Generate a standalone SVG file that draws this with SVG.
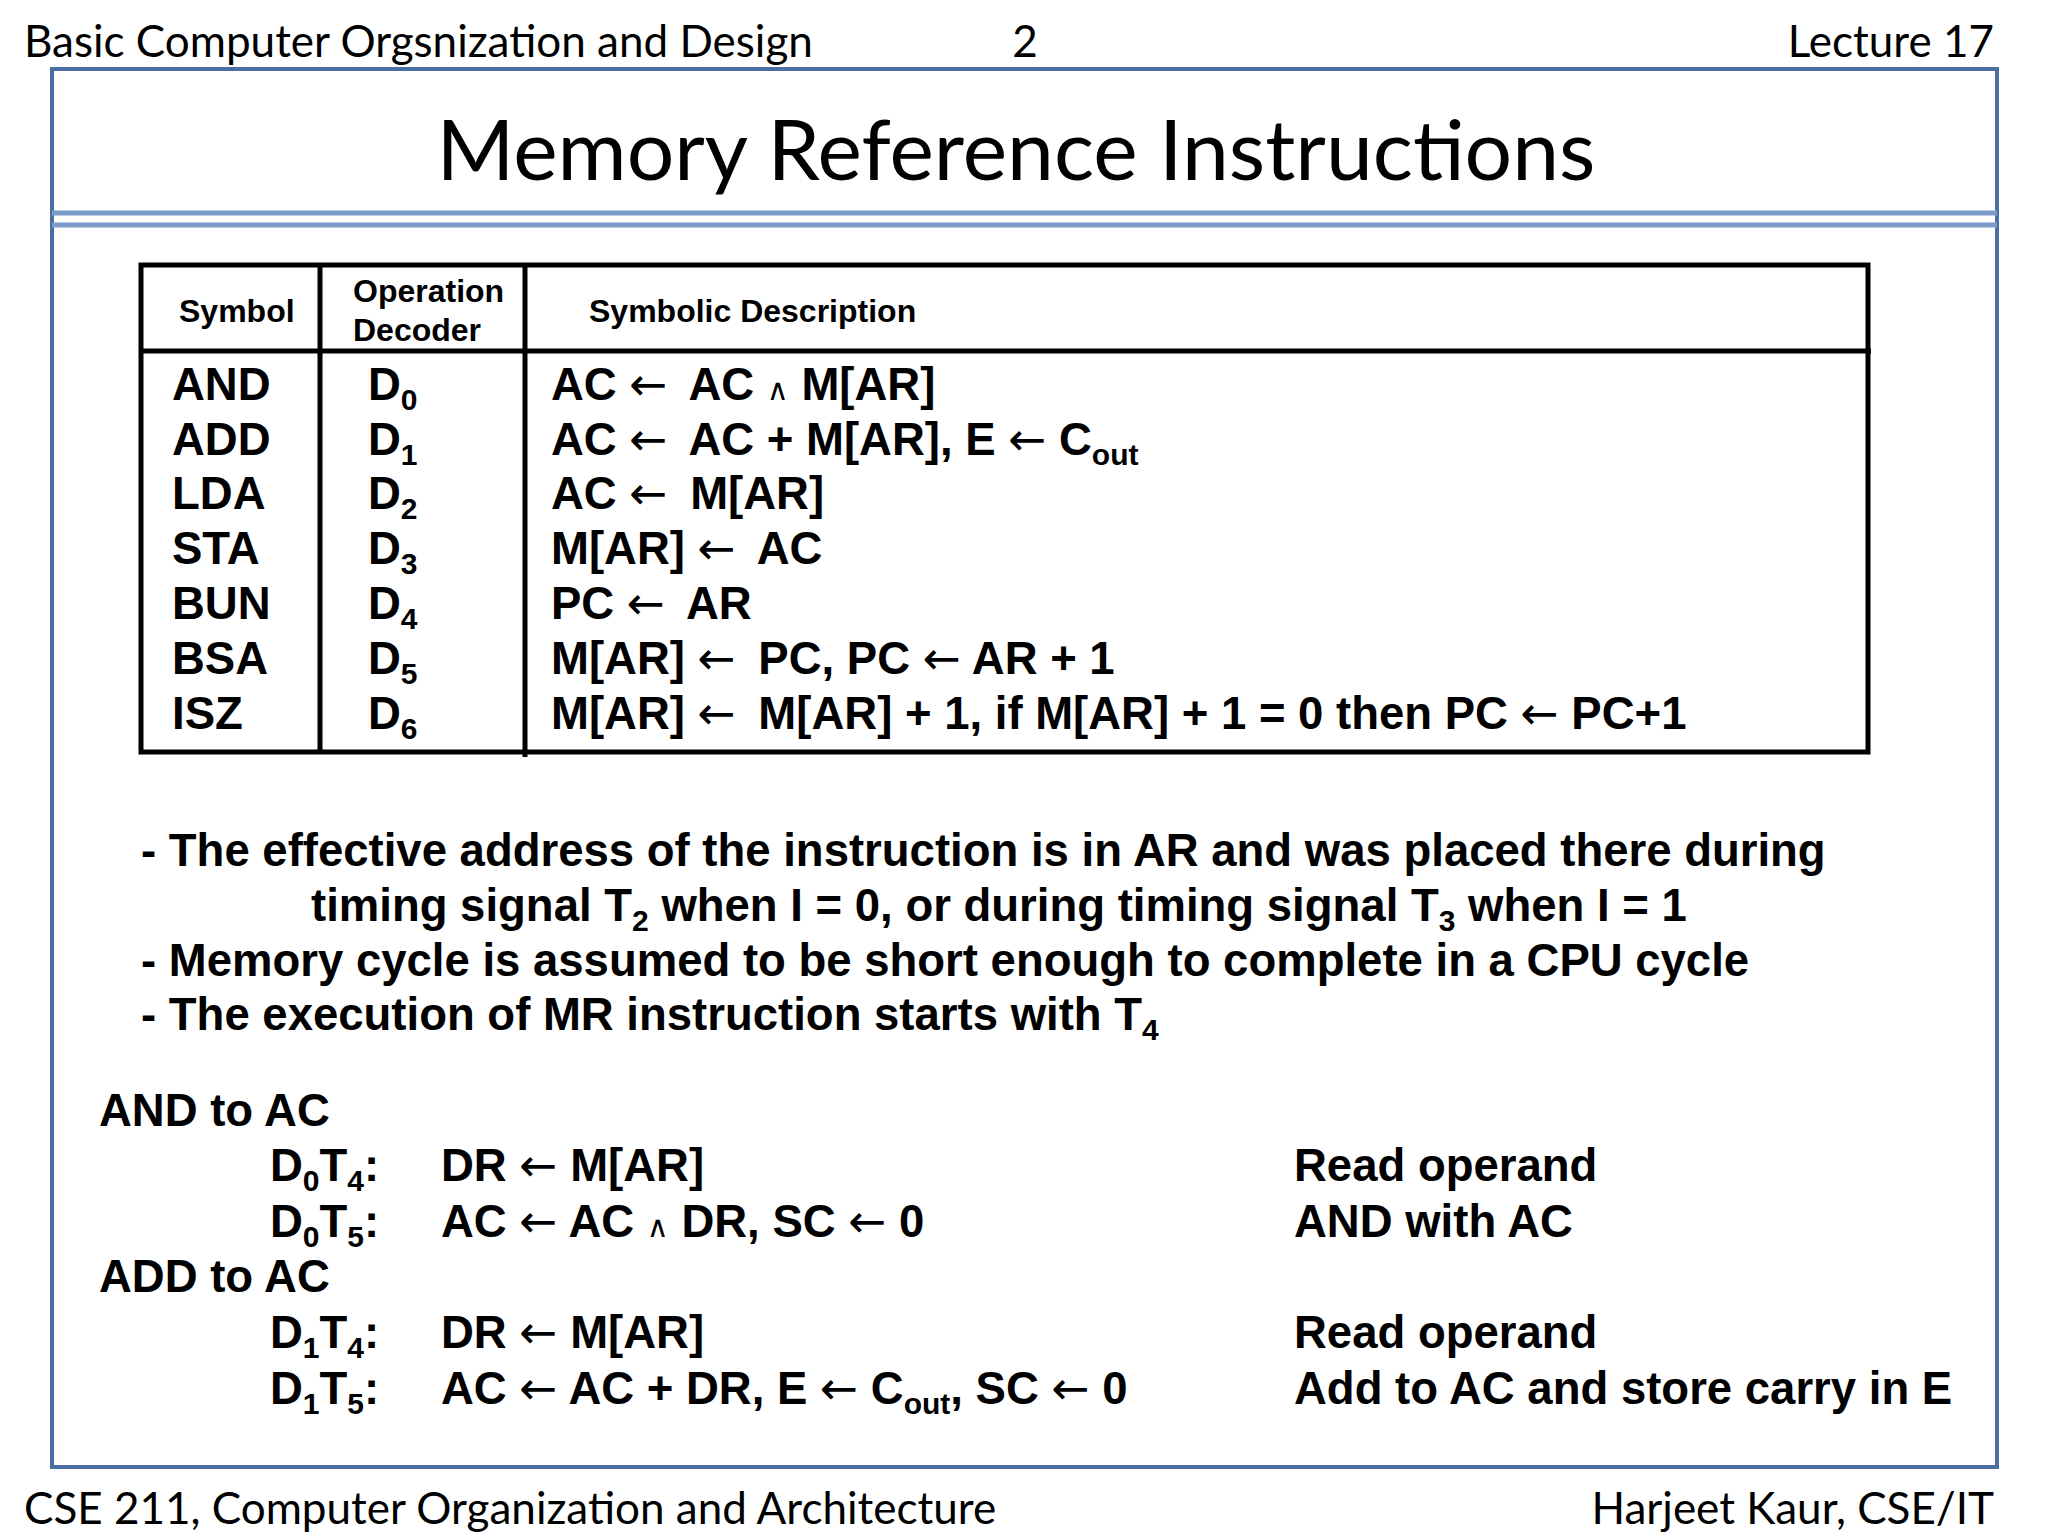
<svg xmlns="http://www.w3.org/2000/svg" width="2048" height="1536" viewBox="0 0 2048 1536">
<style>
.hd{font-family:Lato,"Open Sans",sans-serif;font-size:44px;fill:#000}
.ti{font-family:Lato,"Open Sans",sans-serif;font-size:84px;fill:#000}
.b{font-family:"Liberation Sans",Arial,sans-serif;font-weight:bold;font-size:45.5px;fill:#000}
.th{font-family:"Liberation Sans",Arial,sans-serif;font-weight:bold;font-size:32px;fill:#000}
.s{font-size:30px}
.a{font-family:"DejaVu Sans",sans-serif;font-weight:normal}
.ln{stroke:#000;stroke-width:5;fill:none}
</style>
<rect width="2048" height="1536" fill="#fff"/>
<g id="header">
<text class="hd" x="24" y="57">Basic Computer Orgsnization and Design</text>
<text class="hd" x="1025" y="57" text-anchor="middle">2</text>
<text class="hd" x="1994" y="57" text-anchor="end">Lecture 17</text>
</g>
<rect x="52" y="69" width="1945" height="1398" fill="none" stroke="#4a6fa5" stroke-width="4"/>
<g id="title">
<text class="ti" x="1016" y="180" text-anchor="middle">Memory Reference Instructions</text>
<line x1="52" y1="213" x2="1997" y2="213" stroke="#7a9cc8" stroke-width="5"/>
<line x1="52" y1="225" x2="1997" y2="225" stroke="#7a9cc8" stroke-width="5"/>
</g>
<g id="table">
<rect x="141" y="265" width="1727" height="487" class="ln"/>
<line x1="141" y1="351" x2="1871" y2="351" class="ln"/>
<line x1="320" y1="265" x2="320" y2="752" class="ln"/>
<line x1="525" y1="265" x2="525" y2="757" class="ln"/>
<text class="th" x="179" y="322">Symbol</text>
<text class="th" x="353" y="302">Operation</text>
<text class="th" x="353" y="341">Decoder</text>
<text class="th" x="589" y="322">Symbolic Description</text>
<g class="b">
<text x="172" y="400">AND</text><text x="368" y="400">D<tspan class="s" dy="10">0</tspan></text><text x="551" y="400">AC <tspan class="a">←</tspan> <tspan dx="10">AC</tspan> <tspan class="a" font-size="30">∧</tspan> M[AR]</text>
<text x="172" y="455">ADD</text><text x="368" y="455">D<tspan class="s" dy="10">1</tspan></text><text x="551" y="455">AC <tspan class="a">←</tspan> <tspan dx="10">AC</tspan> + M[AR], E <tspan class="a">←</tspan> C<tspan class="s" dy="10">out</tspan></text>
<text x="172" y="509">LDA</text><text x="368" y="509">D<tspan class="s" dy="10">2</tspan></text><text x="551" y="509">AC <tspan class="a">←</tspan> <tspan dx="10">M[AR]</tspan></text>
<text x="172" y="564">STA</text><text x="368" y="564">D<tspan class="s" dy="10">3</tspan></text><text x="551" y="564">M[AR] <tspan class="a">←</tspan> <tspan dx="10">AC</tspan></text>
<text x="172" y="619">BUN</text><text x="368" y="619">D<tspan class="s" dy="10">4</tspan></text><text x="551" y="619">PC <tspan class="a">←</tspan> <tspan dx="10">AR</tspan></text>
<text x="172" y="674">BSA</text><text x="368" y="674">D<tspan class="s" dy="10">5</tspan></text><text x="551" y="674">M[AR] <tspan class="a">←</tspan> <tspan dx="10">PC,</tspan> PC <tspan class="a">←</tspan> AR + 1</text>
<text x="172" y="729">ISZ</text><text x="368" y="729">D<tspan class="s" dy="10">6</tspan></text><text x="551" y="729">M[AR] <tspan class="a">←</tspan> <tspan dx="10">M[AR]</tspan> + 1, if M[AR] + 1 = 0 then PC <tspan class="a">←</tspan> PC+1</text>
</g>
</g>
<g id="notes" class="b">
<text x="141" y="866">- The effective address of the instruction is in AR and was placed there during</text>
<text x="311" y="921">timing signal T<tspan class="s" dy="10">2</tspan><tspan dy="-10"> when I = 0, or during timing signal T</tspan><tspan class="s" dy="10">3</tspan><tspan dy="-10"> when I = 1</tspan></text>
<text x="141" y="976">- Memory cycle is assumed to be short enough to complete in a CPU cycle</text>
<text x="141" y="1030">- The execution of MR instruction starts with T<tspan class="s" dy="10">4</tspan></text>
</g>
<g id="microops" class="b">
<text x="99" y="1126">AND to AC</text>
<text x="270" y="1181">D<tspan class="s" dy="10">0</tspan><tspan dy="-10">T</tspan><tspan class="s" dy="10">4</tspan><tspan dy="-10">:</tspan></text>
<text x="441" y="1181">DR <tspan class="a">←</tspan> M[AR]</text><text x="1294" y="1181">Read operand</text>
<text x="270" y="1237">D<tspan class="s" dy="10">0</tspan><tspan dy="-10">T</tspan><tspan class="s" dy="10">5</tspan><tspan dy="-10">:</tspan></text>
<text x="441" y="1237">AC <tspan class="a">←</tspan> AC <tspan class="a" font-size="30">∧</tspan> DR, SC <tspan class="a">←</tspan> 0</text><text x="1294" y="1237">AND with AC</text>
<text x="99" y="1292">ADD to AC</text>
<text x="270" y="1348">D<tspan class="s" dy="10">1</tspan><tspan dy="-10">T</tspan><tspan class="s" dy="10">4</tspan><tspan dy="-10">:</tspan></text>
<text x="441" y="1348">DR <tspan class="a">←</tspan> M[AR]</text><text x="1294" y="1348">Read operand</text>
<text x="270" y="1404">D<tspan class="s" dy="10">1</tspan><tspan dy="-10">T</tspan><tspan class="s" dy="10">5</tspan><tspan dy="-10">:</tspan></text>
<text x="441" y="1404">AC <tspan class="a">←</tspan> AC + DR, E <tspan class="a">←</tspan> C<tspan class="s" dy="10">out</tspan><tspan dy="-10">, SC </tspan><tspan class="a">←</tspan> 0</text><text x="1294" y="1404">Add to AC and store carry in E</text>
</g>
<g id="footer">
<text class="hd" x="24" y="1524">CSE 211, Computer Organization and Architecture</text>
<text class="hd" x="1994" y="1524" text-anchor="end">Harjeet Kaur, CSE/IT</text>
</g>
</svg>
